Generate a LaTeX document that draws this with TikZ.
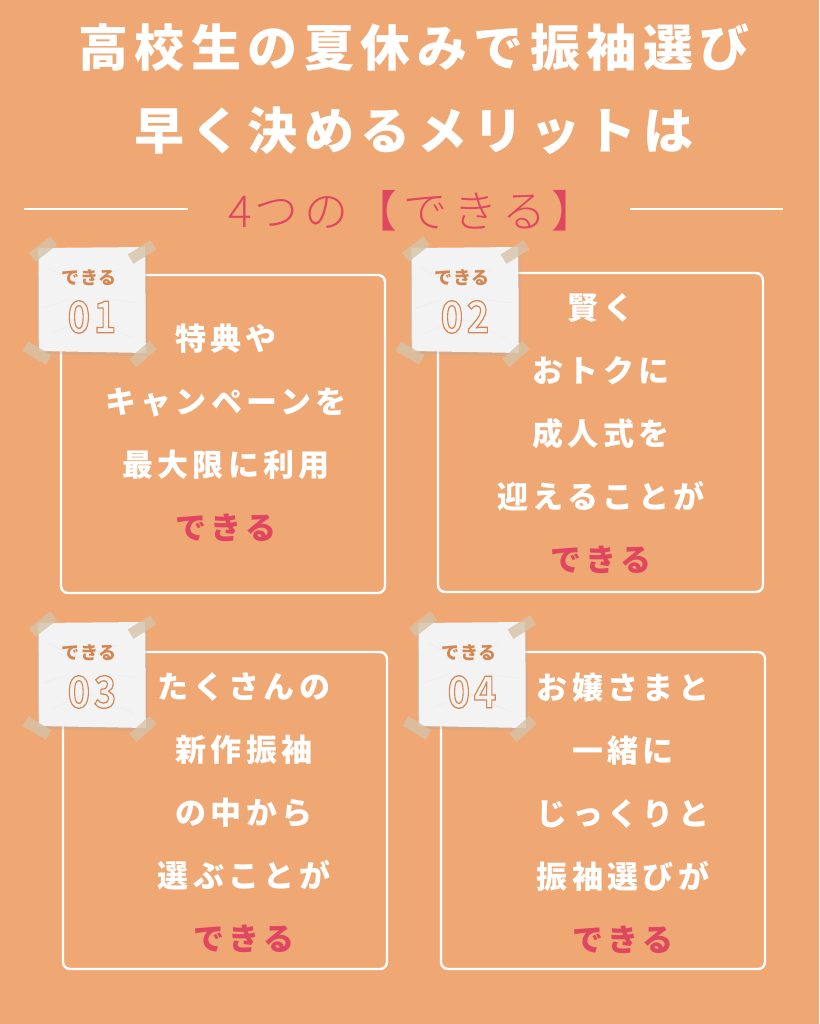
\documentclass[tikz,border=0pt]{standalone}
\usepackage{fontspec}
\newfontfamily\titlefont{Noto Sans CJK JP Black}[LetterSpace=13]
\newfontfamily\bodyfont{Noto Sans CJK JP Black}[LetterSpace=14]
\newfontfamily\subfont{Noto Sans CJK JP Light}[LetterSpace=13]
\newfontfamily\notefont{Noto Sans CJK JP Black}[LetterSpace=3]
\newfontfamily\digitfont{Noto Sans CJK JP Bold}[LetterSpace=10]
\definecolor{bg}{RGB}{239,168,116}
\definecolor{accent}{RGB}{224,70,95}
\definecolor{notetext}{RGB}{212,134,80}
\definecolor{tapec}{RGB}{214,195,168}
\definecolor{paper}{RGB}{243,243,243}
\newcommand\outlinedigits[1]{\special{pdf:literal direct 1 Tr 1.1 w}#1\special{pdf:literal direct 0 Tr 0.4 w}}
\tikzset{
  box/.style={draw=white, line width=2.4pt, rounded corners=7pt},
  sepline/.style={draw=white, line width=2pt},
  titletext/.style={text=white, align=center, inner sep=0pt, font=\titlefont\fontsize{50}{83}\selectfont},
  subtext/.style={text=accent, inner sep=0pt, font=\subfont\fontsize{44}{50}\selectfont},
  bodytext/.style={text=white, align=center, inner sep=0pt, font=\bodyfont\fontsize{31}{63}\selectfont},
  notelabel/.style={text=notetext, inner sep=0pt, font=\notefont\fontsize{18}{20}\selectfont},
  notenum/.style={text=notetext, inner sep=0pt, font=\digitfont\fontsize{38}{40}\selectfont, yscale=1.15},
  tape/.style={fill=tapec, fill opacity=0.8, minimum width=27pt, minimum height=11pt, inner sep=0pt},
}
\newcommand\stickynote[4]{% #1 id, #2 x, #3 y, #4 number
  \begin{scope}[shift={(#2,#3)}]
    \fill[black!35, opacity=0.3] (2,1.5) -- (109,1) .. controls (110,40) and (109,80) .. (110,108) -- (3,106) .. controls (3,70) and (2,40) .. cycle;
    \fill[paper] (0,0) -- (107,-1) .. controls (108,35) and (107,75) .. (108,105) -- (1,103) .. controls (0,70) and (1,35) .. cycle;
    \draw[white!90!black, line width=0.5pt, opacity=0.45] (10,20) -- (40,35) -- (80,22) (15,85) -- (50,70) -- (95,90) (60,50) -- (100,55) (5,60) -- (30,52);
    \draw[black!22, line width=0.6pt] (1,103) .. controls (0,70) and (1,35) .. (0,0);
    \node[notelabel] (#1lab) at (51,30) {できる};
    \node[notenum, transform shape] (#1num) at (54,69) {\outlinedigits{#4}};
    \node[tape, rotate=38] (#1tl) at (5,1) {};
    \node[tape, rotate=32] (#1tr) at (104,4) {};
    \node[tape, rotate=-31] (#1bl) at (-1,105) {};
    \node[tape, rotate=42] (#1br) at (105,106) {};
  \end{scope}}
\begin{document}
\begin{tikzpicture}[x=1pt,y=-1pt]
\useasboundingbox (0,0) rectangle (819,1024);
\fill[bg] (0,0) rectangle (819,1024);
% title
\node[titletext] (title) at (414,89) {高校生の夏休みで振袖選び\\早く決めるメリットは};
% subtitle with lines
\coordinate (l1a) at (24,209); \coordinate (l1b) at (188,209);
\coordinate (l2a) at (630,209); \coordinate (l2b) at (783,209);
\draw[sepline] (l1a) -- (l1b);
\draw[sepline] (l2a) -- (l2b);
\node[subtext] (sub) at (412,211) {4\kern3pt つの【できる】};
% boxes
\draw[box] (61,275) rectangle (385,593);
\draw[box] (438,273) rectangle (763,592);
\draw[box] (63,652) rectangle (387,969);
\draw[box] (441,652) rectangle (765,969);
% body texts
\node[bodytext] (t1) at (226,433) {特典や\\キャンペーンを\\最大限に利用\\{\color{accent}できる}};
\node[bodytext] (t2) at (601,434) {賢く\\おトクに\\成人式を\\迎えることが\\{\color{accent}できる}};
\node[bodytext] (t3) at (244,813) {たくさんの\\新作振袖\\の中から\\選ぶことが\\{\color{accent}できる}};
\node[bodytext] (t4) at (623,813) {お嬢さまと\\一緒に\\じっくりと\\振袖選びが\\{\color{accent}できる}};
% sticky notes
\stickynote{n1}{38}{248}{01}
\stickynote{n2}{411}{248}{02}
\stickynote{n3}{38}{623}{03}
\stickynote{n4}{418}{623}{04}
\end{tikzpicture}
\end{document}
